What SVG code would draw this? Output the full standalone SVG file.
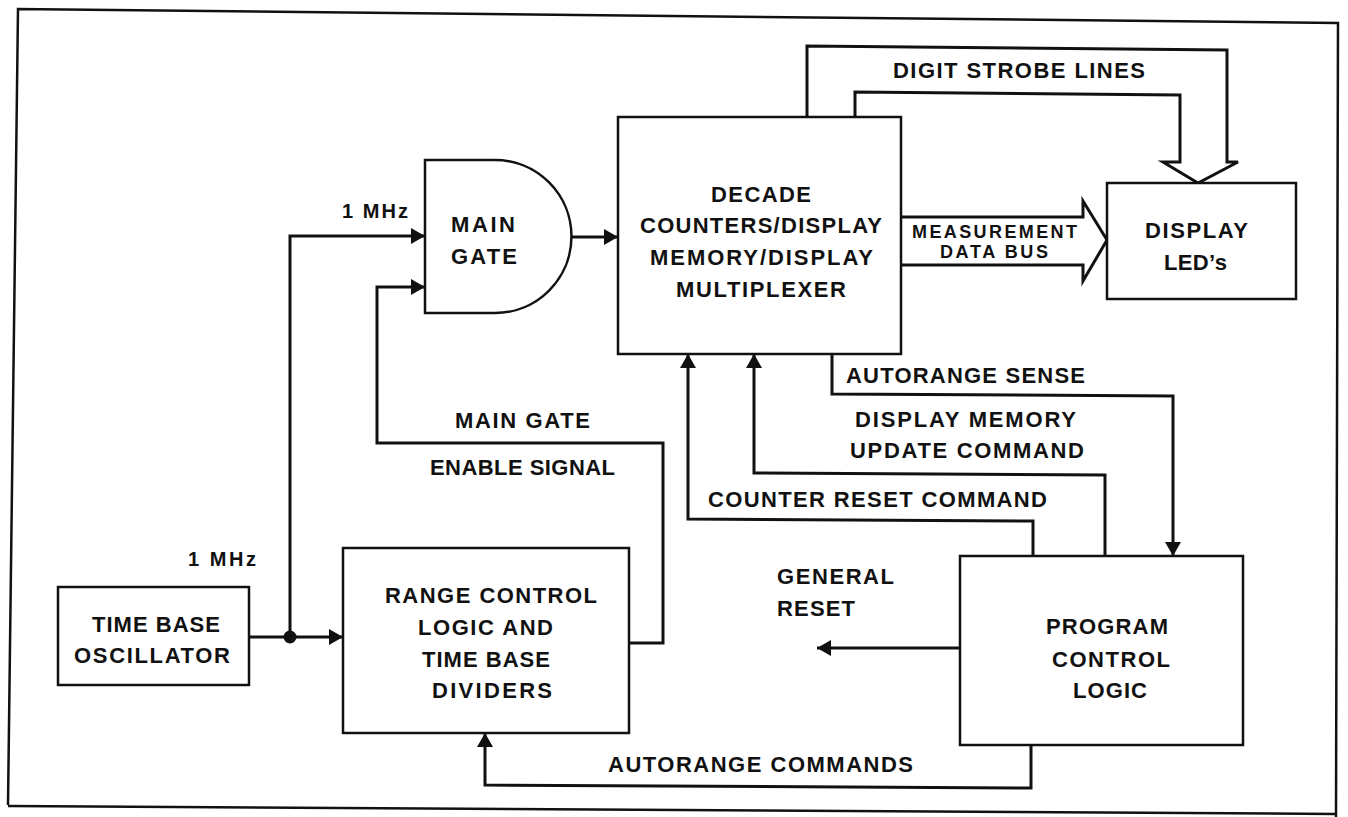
<svg xmlns="http://www.w3.org/2000/svg" width="1348" height="817" viewBox="0 0 1348 817">
<style>
.bg{fill:#fff}
.box{fill:#fff;stroke:#111;stroke-width:2.5}
.ln{fill:none;stroke:#111;stroke-width:3;stroke-linejoin:miter}
.fr{fill:none;stroke:#111;stroke-width:2.5}
.t{font-family:"Liberation Sans",Arial,sans-serif;font-weight:bold;font-size:22px;fill:#111;text-anchor:middle}
.s{font-size:18px}
.m{font-size:20px}
.st{text-anchor:start}
</style>
<defs>
<marker id="ah" viewBox="0 0 14 16" refX="14" refY="8" markerWidth="14" markerHeight="16" markerUnits="userSpaceOnUse" orient="auto">
<path d="M0,0 L14,8 L0,16 z" fill="#111"/>
</marker>
</defs>
<rect class="bg" x="0" y="0" width="1348" height="817"/>
<g id="frame">
<path class="fr" d="M8,805 L18,9 L1338,23 L1336,817"/>
<path class="fr" d="M8,806 L1336,814"/>
</g>
<g id="connectors">
<path class="ln" d="M249,637 L343,637" marker-end="url(#ah)"/>
<path class="ln" d="M290,637 L290,236 L425,236" marker-end="url(#ah)"/>
<circle cx="290" cy="637" r="6.5" fill="#111"/>
<path class="ln" d="M571,237 L618,237" marker-end="url(#ah)"/>
<path class="ln" d="M629,643 L663,643 L663,443 L377,443 L377,287 L425,287" marker-end="url(#ah)"/>
<path class="ln" d="M1031,745 L1031,788 L485,785 L485,733" marker-end="url(#ah)"/>
<path class="ln" d="M960,648 L817,648" marker-end="url(#ah)"/>
<path class="ln" d="M1033,556 L1033,521 L688,519 L688,354" marker-end="url(#ah)"/>
<path class="ln" d="M1105,557 L1105,475 L754,473 L754,354" marker-end="url(#ah)"/>
<path class="ln" d="M832,354 L832,394 L1173,396 L1173,556" marker-end="url(#ah)"/>
<path id="strobe" class="ln" d="M807,118 L807,46 L1227,50 L1227,162 L1238,162 L1198,183 L1163,162 L1180,162 L1180,95 L855,92 L855,118"/>
<path id="databus" class="ln" d="M902,217 L1083,217 L1083,201 L1107,240 L1083,281 L1083,265 L902,265"/>
<text class="t" x="1019" y="78" textLength="252" lengthAdjust="spacing">DIGIT STROBE LINES</text>
<text class="t s" x="994.5" y="238" textLength="165" lengthAdjust="spacing">MEASUREMENT</text>
<text class="t s" x="994" y="258" textLength="108" lengthAdjust="spacing">DATA BUS</text>
<text class="t m" x="375" y="218" textLength="66" lengthAdjust="spacing">1 MHz</text>
<text class="t m" x="222" y="566" textLength="68" lengthAdjust="spacing">1 MHz</text>
<text class="t" x="522.5" y="428" textLength="135" lengthAdjust="spacing">MAIN GATE</text>
<text class="t" x="522.5" y="475" textLength="185" lengthAdjust="spacing">ENABLE SIGNAL</text>
<text class="t" x="965.5" y="383" textLength="239" lengthAdjust="spacing">AUTORANGE SENSE</text>
<text class="t" x="965.5" y="427" textLength="221" lengthAdjust="spacing">DISPLAY MEMORY</text>
<text class="t" x="967" y="458" textLength="234" lengthAdjust="spacing">UPDATE COMMAND</text>
<text class="t" x="877.5" y="507" textLength="339" lengthAdjust="spacing">COUNTER RESET COMMAND</text>
<text class="t st" x="777" y="584" textLength="117" lengthAdjust="spacing">GENERAL</text>
<text class="t st" x="777" y="616" textLength="78" lengthAdjust="spacing">RESET</text>
<text class="t st" x="608" y="772" textLength="305" lengthAdjust="spacing">AUTORANGE COMMANDS</text>
</g>
<g id="time-base-oscillator">
<rect class="box" x="58" y="587" width="191" height="98"/>
<text class="t" x="156" y="632" textLength="128" lengthAdjust="spacing">TIME BASE</text>
<text class="t" x="152" y="663" textLength="156" lengthAdjust="spacing">OSCILLATOR</text>
</g>
<g id="main-gate">
<path class="box" d="M425,160 L495,160 A76.5,76.5 0 0 1 495,313 L425,313 Z"/>
<text class="t" x="483" y="232" textLength="64" lengthAdjust="spacing">MAIN</text>
<text class="t" x="484" y="264" textLength="66" lengthAdjust="spacing">GATE</text>
</g>
<g id="decade-counters">
<rect class="box" x="618" y="117" width="283" height="237"/>
<text class="t" x="761" y="202" textLength="100" lengthAdjust="spacing">DECADE</text>
<text class="t" x="761" y="233" textLength="242" lengthAdjust="spacing">COUNTERS/DISPLAY</text>
<text class="t" x="761.5" y="265" textLength="223" lengthAdjust="spacing">MEMORY/DISPLAY</text>
<text class="t" x="761" y="297" textLength="170" lengthAdjust="spacing">MULTIPLEXER</text>
</g>
<g id="display-leds">
<rect class="box" x="1107" y="183" width="189" height="116"/>
<text class="t" x="1196.5" y="238" textLength="103" lengthAdjust="spacing">DISPLAY</text>
<text class="t" x="1195.5" y="270" textLength="63" lengthAdjust="spacing">LED’s</text>
</g>
<g id="range-control">
<rect class="box" x="343" y="548" width="286" height="185"/>
<text class="t" x="491" y="603" textLength="212" lengthAdjust="spacing">RANGE CONTROL</text>
<text class="t" x="485.5" y="635" textLength="135" lengthAdjust="spacing">LOGIC AND</text>
<text class="t" x="486" y="667" textLength="128" lengthAdjust="spacing">TIME BASE</text>
<text class="t" x="492" y="698" textLength="120" lengthAdjust="spacing">DIVIDERS</text>
</g>
<g id="program-control">
<rect class="box" x="960" y="556" width="283" height="189"/>
<text class="t" x="1107" y="634" textLength="122" lengthAdjust="spacing">PROGRAM</text>
<text class="t" x="1111" y="667" textLength="118" lengthAdjust="spacing">CONTROL</text>
<text class="t" x="1110" y="698" textLength="74" lengthAdjust="spacing">LOGIC</text>
</g>
</svg>
